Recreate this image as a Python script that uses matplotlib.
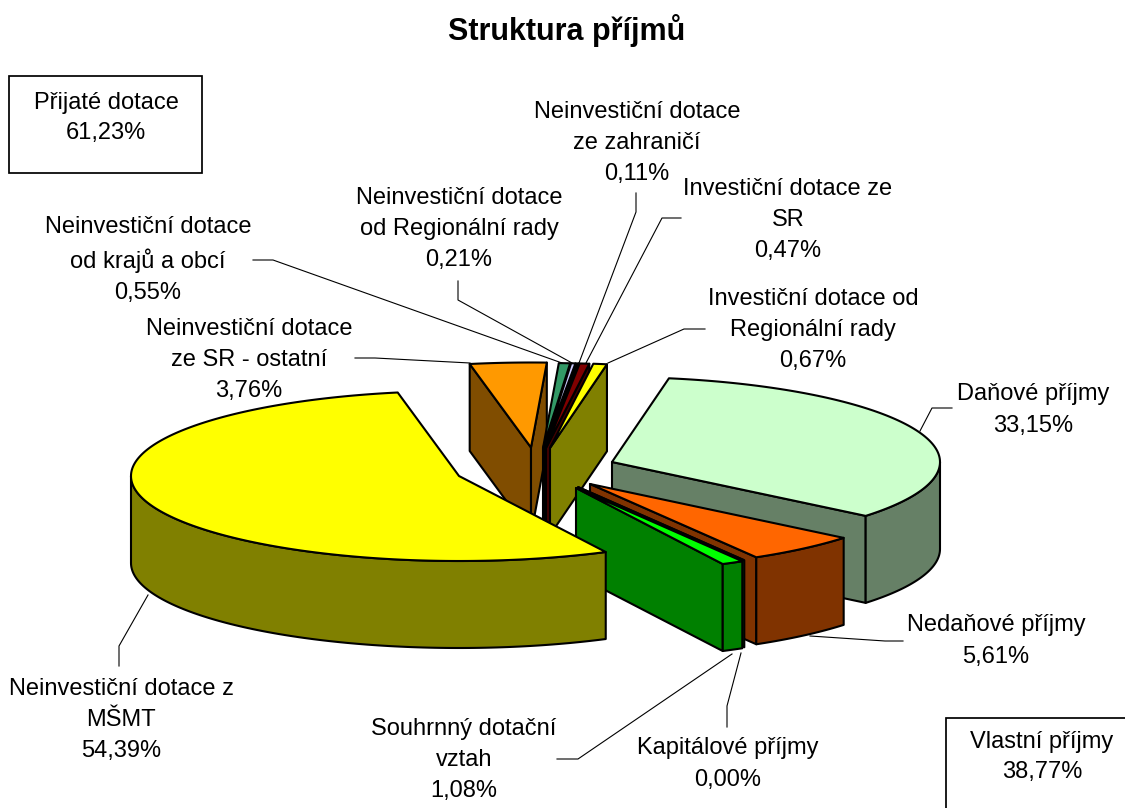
import numpy as np
import matplotlib
matplotlib.use("Agg")
import matplotlib.pyplot as plt
from matplotlib.patches import Polygon, Rectangle

plt.rcParams['font.family'] = ['Liberation Sans', 'DejaVu Sans']

# ---- data ----
names = ["Daňové příjmy", "Nedaňové příjmy", "Kapitálové příjmy", "Souhrnný dotační\nvztah",
         "Neinvestiční dotace z\nMŠMT", "Neinvestiční dotace\nze SR - ostatní",
         "Neinvestiční dotace\nod krajů a obcí", "Neinvestiční dotace\nod Regionální rady",
         "Neinvestiční dotace\nze zahraničí", "Investiční dotace ze\nSR",
         "Investiční dotace od\nRegionální rady"]
values = [33.15, 5.61, 0.00, 1.08, 54.39, 3.76, 0.55, 0.21, 0.11, 0.47, 0.67]
pct_labels = ["33,15%", "5,61%", "0,00%", "1,08%", "54,39%", "3,76%", "0,55%", "0,21%", "0,11%", "0,47%", "0,67%"]
group_labels = ["Přijaté dotace\n61,23%", "Vlastní příjmy\n38,77%"]
title = "Struktura příjmů"

# ---- styles and layout (pixels) ----
top_colors = ["#CCFFCC", "#FF6600", "#006000", "#00FF00", "#FFFF00", "#FF9900",
              "#339966", "#CCCCFF", "#000080", "#800000", "#FFFF00"]
side_colors = ["#668066", "#803300", "#005000", "#008000", "#808000", "#804D00",
               "#1A4D33", "#666680", "#000040", "#400000", "#808000"]
centers = [(612, 462), (590, 484), (578, 487), (576, 488), (459, 476), (531, 447.5),
           (543, 448), (544, 448), (545, 448), (546, 448), (550, 448)]
draw_order = [0, 5, 6, 7, 8, 9, 10, 1, 2, 3, 4]
label_pos = [(1033, 410), (996, 641), (728, 764), (464, 760), (121, 720), (249, 360),
             (148, 260), (459, 229), (637, 143), (788, 220), (813, 330)]
leaders = [
    [(952, 408), (932, 408), (920, 431)],
    [(903, 641), (885, 641), (810, 636)],
    [(727, 727), (727, 706), (741, 653)],
    [(557, 759), (578, 759), (732, 654)],
    [(119, 666), (119, 646), (148, 595)],
    [(355, 358), (375, 358), (470, 363)],
    [(253, 260), (273, 260), (562, 363)],
    [(458, 281), (458, 300), (572, 363)],
    [(636, 193), (636, 212), (579, 363)],
    [(681, 218), (662, 218), (586, 363)],
    [(705, 329), (684, 329), (608, 363)],
]
START = 10.0
RX, RY, DEPTH = 328.0, 85.0, 87.0
LW = 1.5
FS = 17.0

fig = plt.figure(figsize=(11.25, 8.08), dpi=100)
ax = fig.add_axes([0, 0, 1, 1])
ax.set_xlim(0, 1125)
ax.set_ylim(808, 0)
ax.axis("off")


def pts(c, a0, a1):
    """Points of the rim between two clockwise angles (deg from 12 o'clock)."""
    n = max(2, int(abs(a1 - a0)) + 2)
    t = np.radians(np.linspace(a0, a1, n))
    return np.column_stack([c[0] + RX * np.sin(t), c[1] - RY * np.cos(t)])


def face(xy, color, z):
    ax.add_patch(Polygon(xy, closed=True, facecolor=color, edgecolor="black",
                         linewidth=LW, joinstyle="round", zorder=z))


fractions = np.array(values) / sum(values) * 360.0
ends = START + np.cumsum(fractions)
starts = ends - fractions

for rank, i in enumerate(draw_order):
    c = np.array(centers[i], dtype=float)
    a0, a1 = starts[i], ends[i]
    down = np.array([0, DEPTH])
    z = 2 + rank
    # radial walls
    for a, visible in ((a0, np.sin(np.radians(a0)) < 0), (a1, np.sin(np.radians(a1)) > 0)):
        if visible:
            p = pts(c, a, a)[0]
            face([p, c, c + down, p + down], side_colors[i], z)
    # outer wall: the part of the rim facing the viewer
    lo, hi = max(a0, 90.0), min(a1, 270.0)
    if hi > lo:
        rim = pts(c, lo, hi)
        face(np.vstack([rim, (rim + down)[::-1]]), side_colors[i], z)
    # top
    face(np.vstack([c, pts(c, a0, a1)]), top_colors[i], z)

# leader lines and labels
for line in leaders:
    xs, ys = zip(*line)
    ax.plot(xs, ys, color="black", lw=0.8, zorder=30, solid_joinstyle="miter")

for name, pct, (x, y) in zip(names, pct_labels, label_pos):
    ax.text(x, y, name + "\n" + pct, ha="center", va="center", fontsize=FS,
            linespacing=1.54, color="black", zorder=31)

# group boxes
ax.add_patch(Rectangle((9, 76), 193, 97, facecolor="white", edgecolor="black", lw=1.25, zorder=20))
ax.add_patch(Rectangle((946, 718), 200, 120, facecolor="white", edgecolor="black", lw=1.25, zorder=20,
                       clip_on=True))
ax.text(106, 118, group_labels[0], ha="center", va="center", fontsize=FS, linespacing=1.5, zorder=31)
ax.text(1042, 757, group_labels[1], ha="center", va="center", fontsize=FS, linespacing=1.45, zorder=31)

ax.text(567, 31, title, ha="center", va="center", fontsize=22, fontweight="bold", zorder=31)

fig.savefig("out.png", dpi=100, facecolor="white")
